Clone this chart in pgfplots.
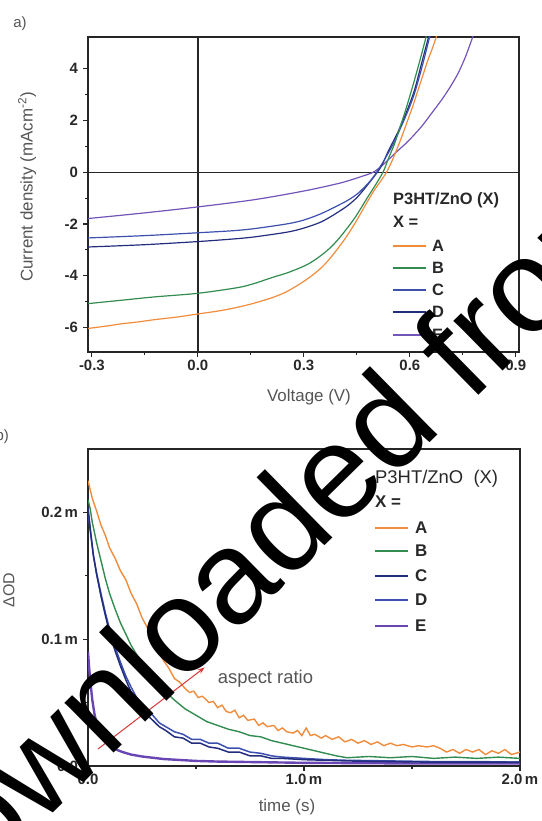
\documentclass[border=0pt]{standalone}
\usepackage{fontspec}
\setmainfont{Liberation Sans}
\usepackage{pgfplots}
\pgfplotsset{compat=1.18}
\usetikzlibrary{arrows.meta}
\definecolor{cA}{RGB}{240,140,60}
\definecolor{cB}{RGB}{50,140,80}
\definecolor{cBlue}{RGB}{60,80,175}
\definecolor{cNavy}{RGB}{35,45,125}
\definecolor{cE}{RGB}{115,85,185}
\definecolor{cEb}{RGB}{105,70,180}
\definecolor{txt}{RGB}{40,40,40}
\definecolor{lab}{RGB}{85,85,85}
\definecolor{arr}{RGB}{215,55,55}
\pgfplotsset{
  myax/.style={scale only axis, tick pos=left, tick align=outside,
    major tick length=5bp, minor tick length=3bp,
    axis line style={line width=1.4bp, black!85},
    tick style={line width=1.1bp, black!85},
    ticklabel style={font=\fontsize{15}{17}\selectfont\bfseries, text=txt},
    yticklabel style={xshift=-1.5bp},
    minor tick num=1}
}
\begin{document}
\begin{tikzpicture}
\useasboundingbox (0,0) rectangle (542bp,821bp);
% ---------------- panel a
\begin{axis}[myax, at={(88bp,469bp)}, anchor=south west, width=431bp, height=315bp,
  xmin=-0.311, xmax=0.909, ymin=-6.95, ymax=5.23,
  xtick={-0.3,0,0.3,0.6,0.9}, xticklabels={-0.3,0.0,0.3,0.6,0.9},
  ytick={-6,-4,-2,0,2,4}, yticklabels={-6,-4,-2,0,2,4}]
\addplot[black!85, line width=1.5bp, forget plot] coordinates {(0,-6.95) (0,5.23)};
\addplot[black!85, line width=1.5bp, forget plot] coordinates {(-0.311,0) (0.909,0)};
\addplot[cE, line width=1.2bp, smooth] coordinates {(-0.311,-1.79) (-0.15,-1.57) (0,-1.34) (0.16,-1.06) (0.302,-0.72) (0.396,-0.44) (0.43,-0.31) (0.462,-0.17) (0.496,0.0) (0.525,0.3) (0.557,0.72) (0.595,1.2) (0.632,1.75) (0.66,2.25) (0.689,2.78) (0.712,3.25) (0.736,3.81) (0.757,4.45) (0.778,5.23) (0.79,5.7)};
\addplot[cNavy, line width=1.2bp, smooth] coordinates {(-0.311,-2.89) (-0.15,-2.80) (0,-2.68) (0.1,-2.58) (0.16,-2.50) (0.255,-2.31) (0.302,-2.15) (0.349,-1.92) (0.39,-1.6) (0.425,-1.28) (0.45,-0.98) (0.472,-0.63) (0.49,-0.32) (0.508,0.0) (0.522,0.3) (0.538,0.79) (0.557,1.3) (0.575,1.81) (0.594,2.45) (0.613,3.17) (0.633,4.2) (0.653,5.23) (0.667,5.9)};
\addplot[cBlue, line width=1.2bp, smooth] coordinates {(-0.311,-2.54) (-0.15,-2.45) (0,-2.34) (0.1,-2.26) (0.16,-2.18) (0.255,-1.99) (0.302,-1.84) (0.349,-1.60) (0.39,-1.33) (0.425,-1.08) (0.45,-0.85) (0.472,-0.57) (0.49,-0.3) (0.506,0.0) (0.52,0.3) (0.538,0.72) (0.557,1.2) (0.575,1.75) (0.594,2.35) (0.613,3.04) (0.635,4.1) (0.656,5.23) (0.67,5.9)};
\addplot[cB, line width=1.2bp, smooth] coordinates {(-0.311,-5.08) (-0.217,-4.95) (-0.123,-4.82) (0,-4.68) (0.113,-4.46) (0.16,-4.3) (0.208,-4.08) (0.255,-3.88) (0.302,-3.62) (0.330,-3.40) (0.355,-3.15) (0.377,-2.89) (0.40,-2.55) (0.425,-2.12) (0.445,-1.75) (0.462,-1.38) (0.48,-0.98) (0.5,-0.55) (0.524,0.0) (0.540,0.55) (0.557,1.11) (0.571,1.7) (0.585,2.27) (0.599,2.9) (0.613,3.56) (0.63,4.4) (0.646,5.23) (0.66,5.9)};
\addplot[cA, line width=1.2bp, smooth] coordinates {(-0.311,-6.04) (-0.25,-5.93) (-0.217,-5.86) (-0.17,-5.79) (-0.123,-5.70) (-0.06,-5.60) (0,-5.48) (0.06,-5.36) (0.113,-5.22) (0.16,-5.06) (0.208,-4.86) (0.245,-4.66) (0.274,-4.44) (0.302,-4.2) (0.330,-3.92) (0.355,-3.62) (0.377,-3.28) (0.40,-2.88) (0.425,-2.4) (0.45,-1.85) (0.475,-1.25) (0.5,-0.68) (0.518,-0.33) (0.534,0.0) (0.55,0.45) (0.566,0.98) (0.580,1.48) (0.594,2.01) (0.609,2.58) (0.623,3.17) (0.637,3.75) (0.651,4.33) (0.664,4.8) (0.675,5.23) (0.69,5.8)};
\end{axis}
% ---------------- panel b
\begin{axis}[myax, at={(88bp,55bp)}, anchor=south west, width=432bp, height=317bp,
  xmin=0, xmax=2, ymin=0, ymax=0.25,
  xtick={0,1,2}, xticklabels={0.0,1.0\,m,2.0\,m},
  ytick={0,0.1,0.2}, yticklabels={0.0,0.1\,m,0.2\,m}]
\addplot[cEb, line width=2.4bp] coordinates {(0,0.090) (0.005,0.078) (0.01,0.068) (0.02,0.052) (0.03,0.041) (0.04,0.033) (0.05,0.028) (0.07,0.021) (0.10,0.016) (0.13,0.013) (0.16,0.011) (0.20,0.009) (0.25,0.0075) (0.30,0.0065) (0.35,0.0055) (0.40,0.005) (0.50,0.004) (0.60,0.0035) (0.80,0.003) (1.00,0.0025) (1.50,0.002) (2.00,0.002)};
\addplot[cBlue, line width=1.5bp] coordinates {(0,0.200) (0.01,0.186) (0.025,0.166) (0.04,0.152) (0.06,0.136) (0.08,0.121) (0.10,0.108) (0.125,0.094) (0.15,0.082) (0.175,0.071) (0.20,0.062) (0.225,0.054) (0.25,0.049) (0.275,0.043) (0.30,0.040) (0.33,0.034) (0.36,0.031) (0.40,0.027) (0.44,0.025) (0.48,0.021) (0.52,0.021) (0.56,0.018) (0.60,0.018) (0.65,0.014) (0.70,0.014) (0.75,0.011) (0.80,0.010) (0.85,0.008) (0.90,0.007) (1.00,0.006) (1.10,0.005) (1.20,0.0045) (1.40,0.004) (1.60,0.0035) (1.80,0.0035) (2.00,0.003)};
\addplot[cNavy, line width=1.5bp] coordinates {(0,0.204) (0.01,0.188) (0.025,0.166) (0.04,0.151) (0.06,0.134) (0.08,0.119) (0.10,0.105) (0.125,0.091) (0.15,0.079) (0.175,0.068) (0.20,0.058) (0.225,0.051) (0.25,0.045) (0.275,0.040) (0.30,0.036) (0.33,0.031) (0.36,0.028) (0.40,0.023) (0.44,0.022) (0.48,0.018) (0.52,0.018) (0.56,0.015) (0.60,0.014) (0.65,0.011) (0.70,0.011) (0.75,0.008) (0.80,0.008) (0.85,0.006) (0.90,0.006) (1.00,0.005) (1.10,0.0045) (1.20,0.004) (1.40,0.0035) (1.60,0.003) (1.80,0.003) (2.00,0.003)};
\addplot[cB, line width=1.4bp] coordinates {(0,0.210) (0.01,0.203) (0.02,0.192) (0.04,0.176) (0.06,0.162) (0.08,0.148) (0.10,0.136) (0.125,0.124) (0.15,0.113) (0.175,0.104) (0.20,0.095) (0.225,0.088) (0.25,0.081) (0.275,0.076) (0.30,0.069) (0.325,0.065) (0.35,0.060) (0.375,0.056) (0.40,0.052) (0.45,0.045) (0.50,0.040) (0.55,0.035) (0.60,0.032) (0.65,0.029) (0.70,0.027) (0.75,0.024) (0.80,0.023) (0.85,0.020) (0.90,0.018) (0.95,0.016) (1.00,0.014) (1.05,0.012) (1.10,0.010) (1.15,0.008) (1.20,0.0065) (1.30,0.0075) (1.40,0.0065) (1.50,0.0075) (1.60,0.006) (1.70,0.007) (1.80,0.006) (1.90,0.007) (2.00,0.006)};
\addplot[cA, line width=1.4bp] coordinates {(0,0.225) (0.02,0.211) (0.04,0.201) (0.06,0.190) (0.08,0.182) (0.10,0.172) (0.125,0.164) (0.15,0.154) (0.175,0.147) (0.20,0.136) (0.225,0.128) (0.25,0.117) (0.275,0.109) (0.30,0.099) (0.325,0.091) (0.35,0.083) (0.375,0.077) (0.40,0.069) (0.425,0.066) (0.45,0.061) (0.47,0.058) (0.49,0.059) (0.51,0.054) (0.53,0.055) (0.56,0.050) (0.58,0.051) (0.60,0.046) (0.62,0.048) (0.64,0.043) (0.66,0.042) (0.68,0.044) (0.70,0.038) (0.72,0.040) (0.74,0.036) (0.77,0.037) (0.79,0.032) (0.81,0.034) (0.83,0.031) (0.86,0.032) (0.88,0.028) (0.90,0.030) (0.92,0.027) (0.95,0.026) (0.97,0.028) (0.99,0.024) (1.01,0.030) (1.03,0.024) (1.05,0.025) (1.08,0.022) (1.10,0.024) (1.13,0.021) (1.16,0.023) (1.19,0.019) (1.22,0.021) (1.25,0.018) (1.28,0.020) (1.31,0.017) (1.34,0.019) (1.37,0.016) (1.40,0.018) (1.43,0.016) (1.46,0.017) (1.50,0.015) (1.53,0.016) (1.57,0.015) (1.60,0.016) (1.63,0.014) (1.66,0.011) (1.69,0.013) (1.72,0.010) (1.75,0.013) (1.78,0.011) (1.81,0.013) (1.84,0.009) (1.87,0.012) (1.90,0.010) (1.93,0.013) (1.96,0.009) (2.00,0.011)};
\draw[arr, line width=1bp, -{Stealth[length=7bp,width=5bp]}] (axis cs:0.046,0.0134) -- (axis cs:0.54,0.0777);
\node[anchor=west, inner sep=0pt, text=lab, font=\fontsize{18.5}{20}\selectfont] at (axis cs:0.60,0.0685) {aspect ratio};
\end{axis}
% ---------------- legends (panel a)
\node[anchor=west, inner sep=0pt, text=txt, font=\fontsize{16.5}{18}\selectfont\bfseries] at (393bp,621bp) {P3HT/ZnO (X)};
\node[anchor=west, inner sep=0pt, text=txt, font=\fontsize{16.5}{18}\selectfont\bfseries] at (393bp,599bp) {X =};
\foreach \c/\l/\y in {cA/A/575, cB/B/553, cBlue/C/531, cNavy/D/509, cE/E/486}{
  \draw[\c, line width=1.6bp] (393bp,\y bp) -- (426bp,\y bp);
  \node[anchor=west, inner sep=0pt, text=txt, font=\fontsize{16.5}{18}\selectfont\bfseries] at (432bp,\y bp) {\l};
}
% ---------------- legends (panel b)
\node[anchor=west, inner sep=0pt, text=txt, font=\fontsize{18.5}{20}\selectfont] at (375bp,342bp) {P3HT/ZnO\ \ (X)};
\node[anchor=west, inner sep=0pt, text=txt, font=\fontsize{17}{19}\selectfont\bfseries] at (375bp,319bp) {X =};
\foreach \c/\l/\y in {cA/A/293, cB/B/270, cNavy/C/245, cBlue/D/221, cEb/E/195}{
  \draw[\c, line width=1.6bp] (375bp,\y bp) -- (408bp,\y bp);
  \node[anchor=west, inner sep=0pt, text=txt, font=\fontsize{17}{19}\selectfont\bfseries] at (415bp,\y bp) {\l};
}
% ---------------- axis labels
\node[rotate=90, text=lab, font=\fontsize{17}{19}\selectfont] at (27bp,634bp) {Current density (mAcm\textsuperscript{-2})};
\node[text=lab, font=\fontsize{17}{19}\selectfont] at (309bp,424bp) {Voltage (V)};
\node[rotate=90, text=lab, font=\fontsize{16}{18}\selectfont] at (9bp,231bp) {ΔOD};
\node[text=lab, font=\fontsize{17}{19}\selectfont] at (287bp,14bp) {time (s)};
\node[text=lab, font=\fontsize{15}{17}\selectfont] at (20bp,797bp) {a)};
\node[anchor=east, text=lab, inner sep=0pt, font=\fontsize{15}{17}\selectfont] at (9bp,384bp) {b)};
% ---------------- watermark
\node[anchor=base, inner sep=0pt, rotate=44.5, text=black, font=\fontsize{133}{133}\selectfont] at (289bp,240bp) {Downloaded from};
\end{tikzpicture}
\end{document}
